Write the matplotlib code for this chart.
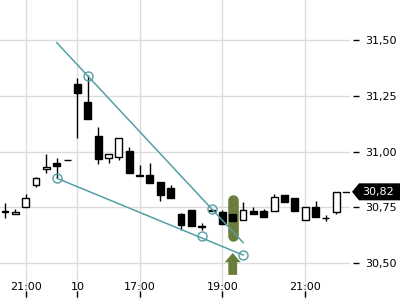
import matplotlib
matplotlib.use("Agg")
import matplotlib.pyplot as plt
from matplotlib.patches import FancyArrow, Polygon
import numpy as np

# ---- data ----
opens  = [30.732, 30.719, 30.752, 30.849, 30.921, 30.948, 30.963, 31.303, 31.221, 31.070,
          30.970, 30.977, 31.003, 30.895, 30.894, 30.863, 30.836, 30.721, 30.739, 30.665,
          30.737, 30.731, 30.719, 30.693, 30.734, 30.736, 30.734, 30.806, 30.791, 30.693,
          30.751, 30.705, 30.728]
highs  = [30.770, 30.745, 30.810, 30.886, 30.989, 30.970, 30.963, 31.328, 31.343, 31.109,
          30.988, 31.060, 31.020, 30.940, 30.948, 30.863, 30.851, 30.725, 30.739, 30.679,
          30.737, 30.739, 30.719, 30.776, 30.751, 30.742, 30.810, 30.806, 30.791, 30.753,
          30.779, 30.716, 30.820]
lows   = [30.703, 30.719, 30.752, 30.843, 30.903, 30.883, 30.962, 31.062, 31.148, 30.943,
          30.951, 30.963, 30.906, 30.892, 30.861, 30.780, 30.794, 30.649, 30.668, 30.649,
          30.735, 30.675, 30.691, 30.693, 30.719, 30.709, 30.734, 30.773, 30.736, 30.693,
          30.709, 30.691, 30.719]
closes = [30.730, 30.731, 30.792, 30.882, 30.930, 30.937, 30.962, 31.261, 31.148, 30.968,
          30.988, 31.060, 30.906, 30.892, 30.861, 30.806, 30.794, 30.672, 30.668, 30.663,
          30.735, 30.675, 30.691, 30.739, 30.719, 30.709, 30.798, 30.773, 30.736, 30.753,
          30.709, 30.703, 30.820]

xtick_pos = [2, 7, 13, 21, 29]
xtick_labels = ["21:00", "10", "17:00", "19:00", "21:00"]
ytick_vals = [30.50, 30.75, 31.00, 31.25, 31.50]

upper_line_x = [5, 23]
upper_line_y = [31.488, 30.593]
upper_pts_x = [8, 20]
upper_pts_y = [31.339, 30.742]
lower_line_x = [5, 23]
lower_line_y = [30.881, 30.537]
lower_pts_x = [5, 19, 23]
lower_pts_y = [30.881, 30.620, 30.537]

signal_x = 22
signal_range = [30.785, 30.624]
arrow_range = [30.448, 30.546]

teal = "#549fa4"
olive = "#6b7d3a"

fig = plt.figure(figsize=(4, 3), dpi=100)
ax = fig.add_axes([0, 0, 0.875, 1])
ax.set_xlim(-0.483, 33.33)
ax.set_ylim(30.3356, 31.679)
for s in ax.spines.values():
    s.set_visible(False)

ax.set_axisbelow(True)
ax.grid(True, color="#dcdcdc", lw=1)

x = np.arange(len(opens))
o = np.array(opens); c = np.array(closes); h = np.array(highs); l = np.array(lows)
ax.vlines(x, l, h, color="black", lw=1, zorder=3)
up = c >= o
bottoms = np.minimum(o, c)
heights = np.abs(c - o)
ax.bar(x[up], heights[up], bottom=bottoms[up], width=0.66, facecolor="white",
       edgecolor="black", lw=1, zorder=4)
ax.bar(x[~up], heights[~up], bottom=bottoms[~up], width=0.66, facecolor="black",
       edgecolor="black", lw=1, zorder=4)

# signal pill and arrow
ax.plot([signal_x, signal_x], signal_range, color=olive, lw=7.6,
        solid_capstyle="round", zorder=2)
ax.add_patch(FancyArrow(signal_x, arrow_range[0], 0, arrow_range[1] - arrow_range[0],
                        width=0.85, head_width=1.55, head_length=0.041,
                        length_includes_head=True, color=olive, lw=0, zorder=5,
                        clip_on=False))

# trend lines
ax.plot(upper_line_x, upper_line_y, color=teal, lw=1.1, zorder=5)
ax.plot(lower_line_x, lower_line_y, color=teal, lw=1.1, zorder=5)
ax.plot(upper_pts_x, upper_pts_y, "o", ms=6.5, mfc="none", mec=teal, mew=1, zorder=6)
ax.plot(lower_pts_x, lower_pts_y, "o", ms=6.5, mfc="none", mec=teal, mew=1, zorder=6)

# axes ticks
ax.yaxis.tick_right()
ax.spines["right"].set_position(("outward", 2.2))
ax.set_yticks(ytick_vals)
ax.set_yticklabels([f"{v:.2f}".replace(".", ",") for v in ytick_vals])
ax.tick_params(axis="y", direction="out", length=4, width=1, pad=4.5,
               labelsize=8, colors="black")
ax.spines["bottom"].set_position(("outward", -2.2))
ax.set_xticks(xtick_pos)
ax.set_xticklabels(xtick_labels)
ax.tick_params(axis="x", direction="in", length=4, width=1, pad=-10.5,
               labelsize=8, colors="black")

# last price tag
last = closes[-1]
ax.axhline(last, xmin=343 / 350, xmax=349 / 350, color="black", lw=1, zorder=6)
tr = ax.get_yaxis_transform()
half = 8.5 / 223.3
tag = Polygon([(352 / 350, last), (359 / 350, last + half), (400 / 350, last + half),
               (400 / 350, last - half), (359 / 350, last - half)], closed=True,
              transform=tr, facecolor="black", edgecolor="none", clip_on=False, zorder=7)
ax.add_patch(tag)
ax.text(362 / 350, last, f"{last:.2f}".replace(".", ","), transform=tr, color="white",
        fontsize=8, ha="left", va="center", zorder=8, clip_on=False)

fig.savefig("out.png", dpi=100)
